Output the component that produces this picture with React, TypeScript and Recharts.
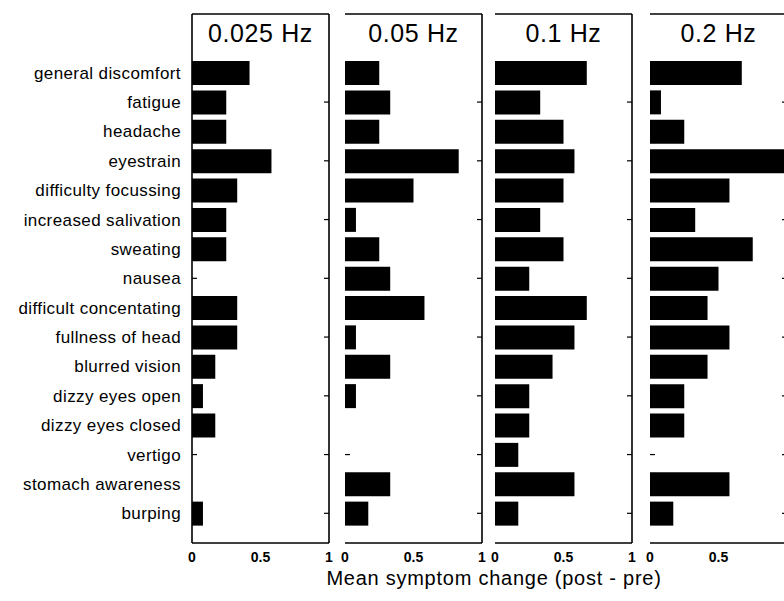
import { BarChart, Bar, XAxis, YAxis } from 'recharts'

// symptom list, top to bottom
const symptoms = [
  'general discomfort',
  'fatigue',
  'headache',
  'eyestrain',
  'difficulty focussing',
  'increased salivation',
  'sweating',
  'nausea',
  'difficult concentating',
  'fullness of head',
  'blurred vision',
  'dizzy eyes open',
  'dizzy eyes closed',
  'vertigo',
  'stomach awareness',
  'burping'
]

// mean change (post - pre) per symptom, one array per frequency
const hz0025 = [0.42, 0.25, 0.25, 0.58, 0.33, 0.25, 0.25, 0, 0.33, 0.33, 0.17, 0.08, 0.17, 0, 0, 0.08]
const hz005 = [0.25, 0.33, 0.25, 0.83, 0.5, 0.08, 0.25, 0.33, 0.58, 0.08, 0.33, 0.08, 0, 0, 0.33, 0.17]
const hz01 = [0.67, 0.33, 0.5, 0.58, 0.5, 0.33, 0.5, 0.25, 0.67, 0.58, 0.42, 0.25, 0.25, 0.17, 0.58, 0.17]
const hz02 = [0.67, 0.08, 0.25, 1.0, 0.58, 0.33, 0.75, 0.5, 0.42, 0.58, 0.42, 0.25, 0.25, 0, 0.58, 0.17]

const titles = ['0.025 Hz', '0.05 Hz', '0.1 Hz', '0.2 Hz']
const series = [hz0025, hz005, hz01, hz02]
const xTicks = [0, 0.5, 1]
// the last panel runs off the right edge, so its "1" is left out
const xTicksLast = [0, 0.5]

// every other row gets a small inward tick on the frame
const frameTicks = symptoms.filter((_, i) => i % 2 === 1)

// plot box of each panel (px)
const boxLeft = [192, 345, 495, 650]
const boxWidth = 137
const plotTop = 14
const plotBottom = 543
const chartHeight = 601

const font = '"Liberation Sans", Arial, Helvetica, sans-serif'
const line = { stroke: '#000', strokeWidth: 1.6 }
const tickLine = { stroke: '#000', strokeWidth: 1.2 }
const noLabel = () => <g />

function XTick({ x, y, payload }: any) {
  return (
    <text
      x={x}
      y={y + 10}
      textAnchor="middle"
      fontSize={14}
      fontWeight="bold"
      fill="#000"
      fontFamily={font}
    >
      {payload.value}
    </text>
  )
}

function Panel({ index }: { index: number }) {
  const rows = symptoms.map((s, i) => ({ symptom: s, value: series[index][i] }))
  const first = index === 0
  const last = index === series.length - 1
  const labelW = first ? boxLeft[0] : 0
  const padL = first ? 0 : 12
  const chartLeft = first ? 0 : boxLeft[index] - padL

  return (
    <div style={{ position: 'absolute', left: chartLeft, top: 0 }}>
      <BarChart
        layout="vertical"
        width={padL + labelW + boxWidth + 12}
        height={chartHeight}
        data={rows}
        margin={{ top: plotTop, right: 12, bottom: 0, left: padL }}
        style={{ fontFamily: font }}
      >
        <XAxis
          xAxisId="b"
          type="number"
          domain={[0, 1]}
          ticks={last ? xTicksLast : xTicks}
          allowDataOverflow
          height={chartHeight - plotBottom}
          axisLine={line}
          tickLine={false}
          tickSize={0}
          tickMargin={9}
          tick={<XTick />}
        />
        <XAxis
          xAxisId="bin"
          type="number"
          domain={[0, 1]}
          ticks={[0.5]}
          mirror
          axisLine={false}
          tick={noLabel}
          tickLine={tickLine}
          tickSize={5}
        />
        <XAxis
          xAxisId="t"
          orientation="top"
          type="number"
          domain={[0, 1]}
          ticks={[0.5]}
          mirror
          axisLine={line}
          tick={noLabel}
          tickLine={tickLine}
          tickSize={5}
          label={{
            value: titles[index],
            position: 'insideTop',
            offset: 10,
            fontSize: 25,
            fill: '#000',
            letterSpacing: 0.6
          }}
        />
        <YAxis
          yAxisId="y"
          type="category"
          dataKey="symptom"
          width={labelW}
          padding={{ top: 44, bottom: 15 }}
          axisLine={line}
          tickLine={false}
          tickSize={0}
          tickMargin={11}
          interval={0}
          tick={first ? { fontSize: 17, fill: '#000', letterSpacing: 0.4 } : false}
        />
        <YAxis
          yAxisId="yl"
          type="category"
          dataKey="symptom"
          padding={{ top: 44, bottom: 15 }}
          ticks={frameTicks}
          interval={0}
          mirror
          axisLine={false}
          tick={noLabel}
          tickLine={tickLine}
          tickSize={5}
        />
        <YAxis
          yAxisId="yr"
          orientation="right"
          type="category"
          dataKey="symptom"
          padding={{ top: 44, bottom: 15 }}
          ticks={frameTicks}
          interval={0}
          mirror
          axisLine={line}
          tick={noLabel}
          tickLine={tickLine}
          tickSize={5}
        />
        <Bar
          dataKey="value"
          xAxisId="b"
          yAxisId="y"
          fill="#000"
          barSize={24}
          isAnimationActive={false}
        />
      </BarChart>
    </div>
  )
}

export default function App() {
  return (
    <div
      style={{
        position: 'fixed',
        left: 0,
        top: 0,
        width: 784,
        height: 601,
        overflow: 'hidden',
        background: '#fff',
        fontFamily: font
      }}
    >
      {titles.map((_, i) => (
        <Panel key={i} index={i} />
      ))}
      <svg
        width={784}
        height={601}
        style={{ position: 'absolute', left: 0, top: 0, pointerEvents: 'none' }}
      >
        <text
          x={494}
          y={585}
          textAnchor="middle"
          fontSize={20}
          letterSpacing={0.75}
          fill="#000"
          fontFamily={font}
        >
          Mean symptom change (post - pre)
        </text>
      </svg>
    </div>
  )
}
